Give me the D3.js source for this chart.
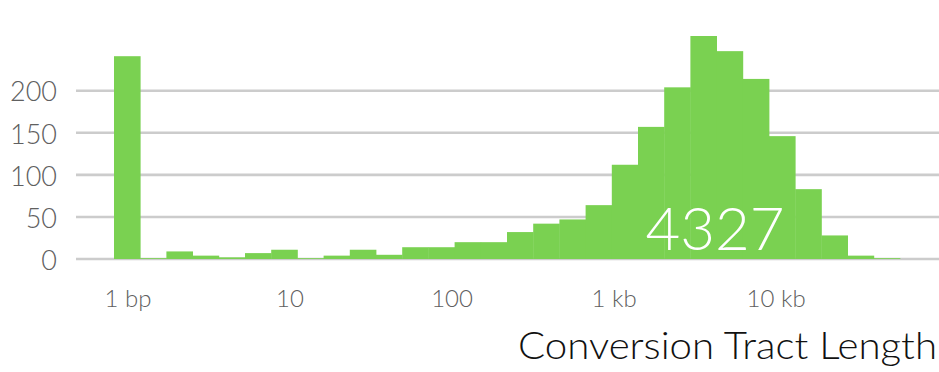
<!DOCTYPE html>
<html>
<head>
<meta charset="utf-8">
<script src="https://cdn.jsdelivr.net/npm/d3@7"></script>
<style>
  html, body { margin: 0; padding: 0; background: #fff; }
  svg { display: block; }
</style>
</head>
<body>
<svg id="chart" width="939" height="372"></svg>
<script>
// ---- data ----
// counts per log-spaced length bin (30 bins, first bin centred on 1 bp)
const counts = [241, 1, 9, 4, 2, 7, 11, 1, 4, 11, 5, 14, 14, 20, 20, 32, 42, 47, 64, 112, 157, 204, 265, 247, 214, 146, 83, 28, 4, 1];
const binLogStart = -0.0833;   // log10 of lower edge of first bin
const binLogWidth = 0.1617;    // log10 width of each bin
const xTickValues = [1, 10, 100, 1000, 10000];
const xTickLabels = ["1 bp", "10", "100", "1 kb", "10 kb"];
const yTickValues = [0, 50, 100, 150, 200];
const totalLabel = "4327";
const xTitle = "Conversion Tract Length";

// ---- layout ----
const svg = d3.select("#chart");
const plotLeft = 114, plotRight = 900, gridLeft = 76, gridRight = 939;
const yBase = 259, yTop = 90.7;

const bins = counts.map((c, i) => ({
  x0: Math.pow(10, binLogStart + i * binLogWidth),
  x1: Math.pow(10, binLogStart + (i + 1) * binLogWidth),
  count: c
}));

const x = d3.scaleLog()
  .domain([bins[0].x0, bins[bins.length - 1].x1])
  .range([plotLeft, plotRight]);
const y = d3.scaleLinear().domain([0, 200]).range([yBase, yTop]);

const font = "Lato, 'Open Sans', sans-serif";

// gridlines
svg.append("g").selectAll("line").data(yTickValues).join("line")
  .attr("x1", gridLeft).attr("x2", gridRight)
  .attr("y1", d => y(d)).attr("y2", d => y(d))
  .attr("stroke", "#cccccc").attr("stroke-width", 2.6);

// y axis labels
const yAxis = d3.axisLeft(y).tickValues(yTickValues).tickSize(0).tickPadding(0);
const yg = svg.append("g").attr("transform", "translate(57,0)").call(yAxis);
yg.select(".domain").remove();
yg.selectAll("text")
  .attr("font-family", font).attr("font-weight", 300)
  .attr("font-size", 27).attr("fill", "#606060")
  .attr("dy", "0.38em");

// bars
svg.append("g").selectAll("rect").data(bins).join("rect")
  .attr("x", d => x(d.x0))
  .attr("width", d => x(d.x1) - x(d.x0) + 0.4)
  .attr("y", d => y(d.count))
  .attr("height", d => y(0) - y(d.count))
  .attr("fill", "#7AD151");

// x axis labels
const xAxis = d3.axisBottom(x).tickValues(xTickValues)
  .tickFormat((d, i) => xTickLabels[i]).tickSize(0).tickPadding(0);
const xg = svg.append("g").attr("transform", "translate(0,290)").call(xAxis);
xg.select(".domain").remove();
xg.selectAll("text")
  .attr("font-family", font).attr("font-weight", 300)
  .attr("font-size", 24).attr("fill", "#606060")
  .attr("dy", "0.71em");

// total label
svg.append("text")
  .attr("x", 715).attr("y", 250)
  .attr("text-anchor", "middle")
  .attr("font-family", font).attr("font-weight", 300)
  .attr("font-size", 60).attr("fill", "#ffffff")
  .text(totalLabel);

// x title
svg.append("text")
  .attr("x", 937).attr("y", 359)
  .attr("text-anchor", "end")
  .attr("font-family", font).attr("font-weight", 300)
  .attr("font-size", 37).attr("fill", "#111111")
  .attr("textLength", 419).attr("lengthAdjust", "spacingAndGlyphs")
  .text(xTitle);
</script>
</body>
</html>
